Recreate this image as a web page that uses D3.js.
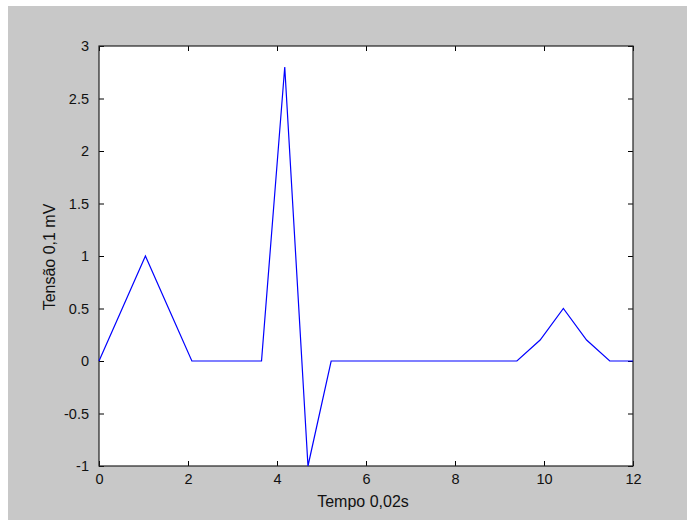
<!DOCTYPE html>
<html><head><meta charset="utf-8">
<script src="https://cdn.jsdelivr.net/npm/d3@7"></script>
<style>body{margin:0;background:#fff}svg{display:block}text{font-family:"Liberation Sans",Arial,sans-serif;fill:#111}</style>
</head><body>
<script>
// Sample times (units of 0.02 s)
const xValues = [0, 0.522, 1.043, 1.565, 2.087, 2.609, 3.130, 3.652, 4.174, 4.696, 5.217, 5.739,
                 6.261, 6.783, 7.304, 7.826, 8.348, 8.870, 9.391, 9.913, 10.435, 10.957, 11.478, 12];
// Voltage (units of 0.1 mV)
const yValues = [0, 0.5, 1, 0.5, 0, 0, 0, 0, 2.8, -1, 0, 0,
                 0, 0, 0, 0, 0, 0, 0, 0.2, 0.5, 0.2, 0, 0];
const xTicks = [0, 2, 4, 6, 8, 10, 12];
const yTicks = [-1, -0.5, 0, 0.5, 1, 1.5, 2, 2.5, 3];
const xLabel = "Tempo 0,02s";
const yLabel = "Tensão 0,1 mV";

const W = 687, H = 520;
const L = 99, R = 633, T = 46, B = 466;
const svg = d3.select("body").append("svg").attr("width", W).attr("height", H);
svg.append("rect").attr("x", 0).attr("y", 0).attr("width", W).attr("height", H).attr("fill", "#fff");
svg.append("rect").attr("x", 8).attr("y", 6).attr("width", W - 8).attr("height", H - 6).attr("fill", "#c8c8c8");
svg.append("rect").attr("x", L).attr("y", T).attr("width", R - L).attr("height", B - T).attr("fill", "#fff");

const x = d3.scaleLinear().domain([0, 12]).range([L, R]);
const y = d3.scaleLinear().domain([-1, 3]).range([B, T]);

const fmt = d => String(d);
const tk = 5;
// bottom axis
svg.append("g").attr("transform", `translate(0,${B})`)
  .call(d3.axisBottom(x).tickValues(xTicks).tickFormat(fmt).tickSizeInner(-tk).tickSizeOuter(0).tickPadding(8))
  .call(g => { g.select(".domain").remove(); g.selectAll("text").attr("font-size", 14.5).attr("font-family", "Liberation Sans, Arial, sans-serif").attr("fill", "#111"); g.selectAll("line").attr("stroke", "#000"); });
// top ticks
svg.append("g").attr("transform", `translate(0,${T})`)
  .call(d3.axisTop(x).tickValues(xTicks).tickFormat("").tickSizeInner(-tk).tickSizeOuter(0))
  .call(g => { g.select(".domain").remove(); g.selectAll("line").attr("stroke", "#000"); });
// left axis
svg.append("g").attr("transform", `translate(${L},0)`)
  .call(d3.axisLeft(y).tickValues(yTicks).tickFormat(fmt).tickSizeInner(-tk).tickSizeOuter(0).tickPadding(10))
  .call(g => { g.select(".domain").remove(); g.selectAll("text").attr("font-size", 14.5).attr("font-family", "Liberation Sans, Arial, sans-serif").attr("fill", "#111"); g.selectAll("line").attr("stroke", "#000"); });
// right ticks
svg.append("g").attr("transform", `translate(${R},0)`)
  .call(d3.axisRight(y).tickValues(yTicks).tickFormat("").tickSizeInner(-tk).tickSizeOuter(0))
  .call(g => { g.select(".domain").remove(); g.selectAll("line").attr("stroke", "#000"); });

// frame
svg.append("rect").attr("x", L).attr("y", T).attr("width", R - L).attr("height", B - T)
  .attr("fill", "none").attr("stroke", "#222").attr("stroke-width", 1.2);

// data line
const pts = xValues.map((v, i) => [v, yValues[i]]);
svg.append("path").datum(pts)
  .attr("d", d3.line().x(d => x(d[0])).y(d => y(d[1])))
  .attr("fill", "none").attr("stroke", "#0000ff").attr("stroke-width", 1.2);

// labels
svg.append("text").attr("x", (L + R) / 2 - 3).attr("y", 507).attr("text-anchor", "middle")
  .attr("font-size", 16).text(xLabel);
svg.append("text").attr("transform", `translate(55,${(T + B) / 2 + 1}) rotate(-90)`).attr("text-anchor", "middle")
  .attr("font-size", 16).text(yLabel);
</script>
</body></html>
